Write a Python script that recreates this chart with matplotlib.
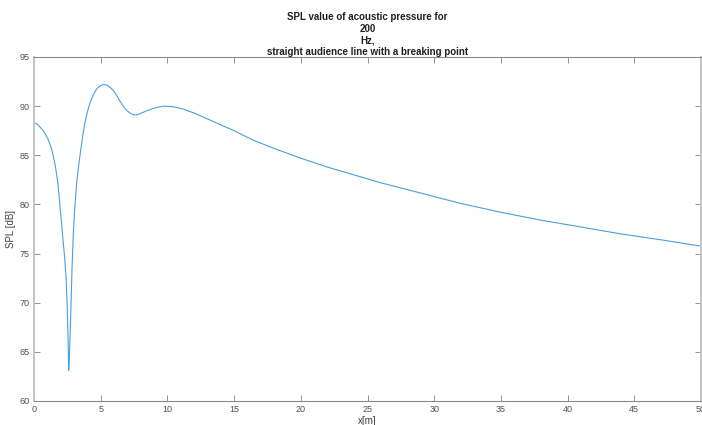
import numpy as np
import matplotlib
matplotlib.use("Agg")
import matplotlib.pyplot as plt

# distance along the audience line [m]
x_m = [0, 0.25, 0.5, 0.75, 1.0, 1.15, 1.3, 1.45, 1.6, 1.7, 1.8, 1.9, 2.0, 2.1,
       2.2, 2.3, 2.4, 2.48, 2.55, 2.6, 2.65, 2.7, 2.75, 2.85, 2.95, 3.05, 3.2,
       3.3, 3.4, 3.5, 3.65, 3.8, 3.95, 4.1, 4.3, 4.5, 4.7, 4.9, 5.1, 5.25, 5.45,
       5.6, 5.8, 6.0, 6.2, 6.4, 6.6, 6.8, 7.0, 7.2, 7.5, 7.7, 7.9, 8.4, 9.0, 9.7,
       10.4, 11.2, 12.0, 13.0, 14.0, 15.0, 16.5, 18, 20, 22, 24, 26, 28, 30, 32,
       35, 38, 41, 44, 47, 50]
# SPL [dB]
spl_db = [88.3, 88.15, 87.8, 87.4, 86.8, 86.3, 85.7, 84.9, 83.9, 83.0, 82.0,
          80.6, 79.0, 77.6, 76.0, 74.6, 72.6, 70.0, 66.5, 63.1, 64.2, 66.5, 68.6,
          73.5, 77.1, 79.5, 82.2, 83.4, 84.5, 85.5, 86.9, 88.2, 89.1, 89.9, 90.7,
          91.3, 91.75, 92.0, 92.15, 92.2, 92.15, 92.0, 91.8, 91.5, 91.1, 90.6,
          90.2, 89.8, 89.5, 89.3, 89.1, 89.12, 89.2, 89.5, 89.8, 90.0, 89.95,
          89.7, 89.3, 88.7, 88.1, 87.5, 86.5, 85.7, 84.7, 83.8, 83.0, 82.2, 81.5,
          80.8, 80.1, 79.2, 78.4, 77.7, 77.0, 76.4, 75.75]

x_ticks = np.arange(0, 55, 5)
y_ticks = np.arange(60, 100, 5)

title_lines = ["SPL value of acoustic pressure for", "200", "Hz,",
               "straight audience line with a breaking point"]

plt.rcParams['font.family'] = ['Liberation Sans', 'DejaVu Sans']

fig = plt.figure(figsize=(7.02, 4.25), dpi=100)
ax = fig.add_axes([34 / 702, 1 - 401 / 425, 667 / 702, 344 / 425])

ax.plot(x_m, spl_db, color='#4a9fdc', lw=0.8)

ax.set_xlim(0, 50)
ax.set_ylim(60, 95)
ax.set_xticks(x_ticks)
ax.set_yticks(y_ticks)
ax.tick_params(direction='in', length=4, width=0.6, color='#808080',
               labelsize=6.5, labelcolor='#505050', top=True, right=True,
               pad=3)

for side in ['top', 'bottom']:
    ax.spines[side].set_color('#8a8a8a')
    ax.spines[side].set_linewidth(0.8)
for side in ['left', 'right']:
    ax.spines[side].set_color('#c4c4c4')
    ax.spines[side].set_linewidth(1.4)

ax.set_xlabel('x[m]', fontsize=7, color='#404040', labelpad=1)
ax.set_ylabel('SPL [dB]', fontsize=7, color='#404040', labelpad=3)
ax.set_title("\n".join(title_lines), fontsize=7, fontweight='bold',
             color='#202020', linespacing=1.2, pad=1.5)

fig.savefig('out.png', dpi=100, facecolor='white')
